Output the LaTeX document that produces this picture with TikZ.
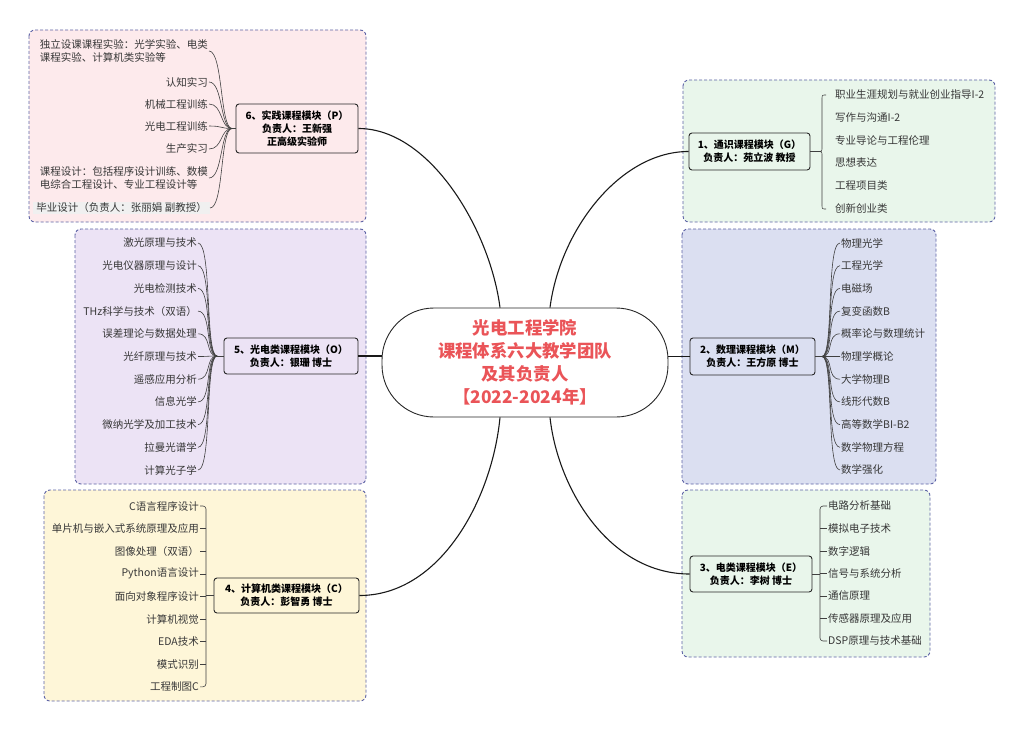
\documentclass[tikz,border=0pt]{standalone}
\usepackage{fontspec}
\setmainfont{Noto Sans CJK SC}

\definecolor{edgeblue}{RGB}{92,98,165}
\definecolor{pinkbg}{RGB}{253,234,236}
\definecolor{greenbg}{RGB}{233,246,235}
\definecolor{lilacbg}{RGB}{236,227,245}
\definecolor{bluebg}{RGB}{219,223,241}
\definecolor{yellowbg}{RGB}{254,246,216}
\definecolor{titlered}{RGB}{234,84,88}
\definecolor{itemgray}{RGB}{55,55,55}

\tikzset{
  panel/.style={draw=edgeblue, dash pattern=on 3pt off 2pt, rounded corners=6pt, line width=0.9pt},
  module/.style={draw=black!85, rounded corners=3pt, line width=0.9pt, align=center, inner sep=2pt,
    font=\bfseries\fontsize{10}{13}\selectfont},
  item/.style={text=itemgray, inner sep=1pt, font=\fontsize{10.5}{13}\selectfont},
  branch/.style={draw=black!90, line width=1.1pt},
  twig/.style={draw=black!75, line width=0.6pt},
  hub/.style={draw=black!85, line width=0.9pt, rounded corners=52pt, minimum width=286pt,
    minimum height=109pt, align=center, text=titlered, font=\bfseries\fontsize{17.4}{23}\selectfont},
}

\begin{document}
\begin{tikzpicture}[x=1pt,y=-1pt]
      \useasboundingbox (0,0) rectangle (1024,730);

      % panels
      \draw[panel, fill=pinkbg] (29,30) rectangle (366,222);
      \draw[panel, fill=greenbg] (683,80) rectangle (995,222);
      \draw[panel, fill=lilacbg] (75,229) rectangle (366,484);
      \draw[panel, fill=bluebg] (682,229) rectangle (936,484);
      \draw[panel, fill=yellowbg] (44,490) rectangle (366,701);
      \draw[panel, fill=greenbg] (682,490) rectangle (930,657);

      % 'hub'
      \node[hub] (hub) at (525,362.5) {光电工程学院\\课程体系六大教学团队\\及其负责人\\【2022-2024年】};

      % 'P'
      \node[module, fill=pinkbg, minimum width=122pt, minimum height=49pt] (prac) at (297,128.5)
        {6、实践课程模块（P）\\负责人：王新强\\正高级实验师};
      \coordinate (jp) at (232,128.5);
      \node[item, align=left, anchor=east] (p1) at (209,51) {独立设课课程实验：光学实验、电类\\课程实验、计算机类实验等};
      \node[item, anchor=east] (p2) at (209,82) {认知实习};
      \node[item, anchor=east] (p3) at (209,104) {机械工程训练};
      \node[item, anchor=east] (p4) at (209,126) {光电工程训练};
      \node[item, anchor=east] (p5) at (209,149) {生产实习};
      \node[item, align=left, anchor=east] (p6) at (209,178) {课程设计：包括程序设计训练、数模\\电综合工程设计、专业工程设计等};
      \node[item, anchor=east, fill=gray!12, inner xsep=3pt] (p7) at (210,208) {毕业设计（负责人：张丽娟 副教授）};
      \draw[twig] (prac.west) -- (jp);
      \foreach \i in {1,...,7}
        \draw[twig] (jp) .. controls +(-12,0) and +(14,0) .. (p\i.east);

      % 'G'
      \node[module, fill=greenbg, minimum width=121pt, minimum height=37pt] (gen) at (749.5,151.5)
        {1、通识课程模块（G）\\负责人：苑立波 教授};
      \foreach \t [count=\i] in {职业生涯规划与就业创业指导I-2,写作与沟通I-2,专业导论与工程伦理,思想表达,工程项目类,创新创业类}
        \node[item, anchor=west] (g\i) at (834,{95+(\i-1)*22.6}) {\t};
      \coordinate (jg) at (817,151.5);
      \draw[twig] (gen.east) -- (jg);
      \draw[twig] (826,95) .. controls (822,95) .. (822,99) -- (822,147.5)
        .. controls (822,151.5) .. (jg) .. controls (822,151.5) .. (822,155.5) -- (822,205)
        .. controls (822,209) .. (826,209);

      % 'M'
      \node[module, fill=bluebg, minimum width=125pt, minimum height=37pt] (math) at (752.5,356.5)
        {2、数理课程模块（M）\\负责人：王方原 博士};
      \coordinate (jm) at (822,356.5);
      \draw[twig] (math.east) -- (jm);
      \foreach \t [count=\i] in {物理光学,工程光学,电磁场,复变函数B,概率论与数理统计,物理学概论,大学物理B,线形代数B,高等数学BI-B2,数学物理方程,数学强化}{
        \node[item, anchor=west] (m\i) at (840,{243+(\i-1)*22.7}) {\t};
        \draw[twig] (jm) .. controls +(12,0) and +(-14,0) .. (m\i.west);
      }

      % 'E'
      \node[module, fill=greenbg, minimum width=122pt, minimum height=36pt] (elec) at (751,574)
        {3、电类课程模块（E）\\负责人：李树 博士};
      \foreach \t [count=\i] in {电路分析基础,模拟电子技术,数字逻辑,信号与系统分析,通信原理,传感器原理及应用,DSP原理与技术基础}
        \node[item, anchor=west] (e\i) at (827,{506+(\i-1)*22.5}) {\t};
      \coordinate (je) at (820,574);
      \draw[twig] (elec.east) -- (je);
      \draw[twig, rounded corners=3pt] (e1.west) -| (je) |- (e7.west);
      \foreach \i in {2,...,6}
        \draw[twig] (je |- e\i.west) -- (e\i.west);

      % 'C'
      \node[module, fill=yellowbg, minimum width=145pt, minimum height=35pt] (comp) at (286.5,595.5)
        {4、计算机类课程模块（C）\\负责人：彭智勇 博士};
      \foreach \t [count=\i] in {C语言程序设计,单片机与嵌入式系统原理及应用,图像处理（双语）,Python语言设计,面向对象程序设计,计算机视觉,EDA技术,模式识别,工程制图C}
        \node[item, anchor=east] (c\i) at (200,{506+(\i-1)*22.6}) {\t};
      \coordinate (jc) at (206,595.5);
      \draw[twig] (comp.west) -- (jc);
      \draw[twig, rounded corners=3pt] (c1.east) -| (jc) |- (c9.east);
      \foreach \i in {2,...,8}
        \draw[twig] (jc |- c\i.east) -- (c\i.east);

      % 'O'
      \node[module, fill=lilacbg, minimum width=134pt, minimum height=36pt] (opto) at (291,356)
        {5、光电类课程模块（O）\\负责人：银珊 博士};
      \coordinate (jo) at (217,356);
      \draw[twig] (opto.west) -- (jo);
      \foreach \t [count=\i] in {激光原理与技术,光电仪器原理与设计,光电检测技术,THz科学与技术（双语）,误差理论与数据处理,光纤原理与技术,遥感应用分析,信息光学,微纳光学及加工技术,拉曼光谱学,计算光子学}{
        \node[item, anchor=east] (o\i) at (198,{243+(\i-1)*22.7}) {\t};
        \draw[twig] (jo) .. controls +(-12,0) and +(14,0) .. (o\i.east);
      }

      % branches to 'hub'
      \draw[branch] (prac.east) .. controls (430,128.5) and (490,230) .. ([xshift=-25pt]hub.north);
      \draw[branch] (gen.west) .. controls (620,151.5) and (560,230) .. ([xshift=25pt]hub.north);
      \draw[branch] (opto.east) -- (opto.east -| hub.west);
      \draw[branch] (math.west) -- (math.west -| hub.east);
      \draw[branch] (comp.east) .. controls (440,595.5) and (492,500) .. ([xshift=-25pt]hub.south);
      \draw[branch] (elec.west) .. controls (610,574) and (558,490) .. ([xshift=25pt]hub.south);
    \end{tikzpicture}
\end{document}
